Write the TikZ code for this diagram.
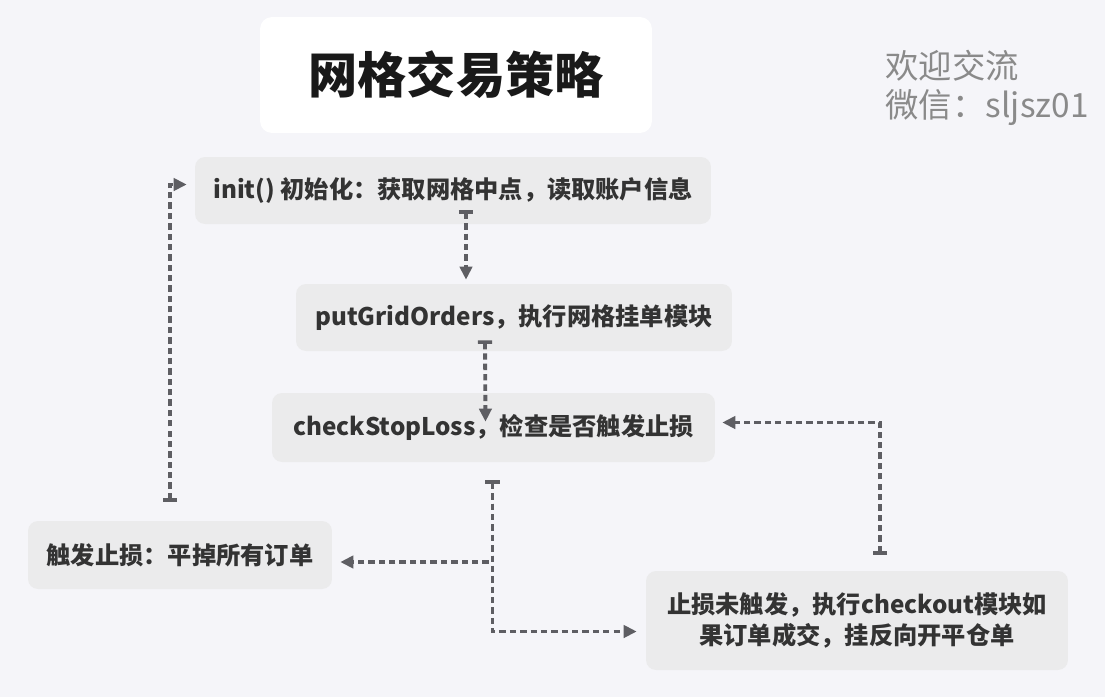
\documentclass[tikz,border=0pt]{standalone}
\usepackage{fontspec}
\setmainfont{Noto Sans CJK SC}
\usetikzlibrary{arrows.meta,calc}

\definecolor{bgcol}{HTML}{F5F5F9}
\definecolor{boxcol}{HTML}{EBEBEC}
\definecolor{linecol}{HTML}{5E5E63}
\definecolor{txtcol}{HTML}{333333}
\definecolor{markcol}{HTML}{8A8A8A}

\tikzset{
  stepbox/.style={fill=boxcol, rounded corners=0.2cm, text=txtcol, inner sep=0pt,
    align=center, font=\fontsize{13.8}{17.5}\selectfont\bfseries},
  flow/.style={linecol, line width=2.2pt, dash pattern=on 3.6pt off 2.3pt,
    {Bar[width=8pt,line width=2pt]}-{Triangle[width=7pt,length=7.4pt]}},
}

\begin{document}
\begin{tikzpicture}[x=0.02cm, y=-0.02cm]
    % canvas, 1 unit = 1 px
    \fill[bgcol] (0,0) rectangle (1105,697);
    \useasboundingbox (0,0) rectangle (1105,697);

    % title and contact
    \node[fill=white, rounded corners=0.24cm, minimum width=7.84cm, minimum height=2.32cm,
      font=\fontsize{28}{30}\selectfont\bfseries, text=black!90] (title) at (456,75) {网格交易策略};
    \node[anchor=west, align=left, text=markcol, inner sep=0pt,
      font=\fontsize{19}{21.8}\selectfont] (contact) at (885,88) {欢迎交流\\微信：sljsz01};

    % steps
    \node[stepbox, minimum width=10.32cm, minimum height=1.34cm] (init) at (453,190.5)
      {init() 初始化：获取网格中点，读取账户信息};
    \node[stepbox, minimum width=8.72cm, minimum height=1.34cm] (putgrid) at (514,317.5)
      {putGridOrders，执行网格挂单模块};
    \node[stepbox, minimum width=8.86cm, minimum height=1.38cm] (check) at (493.5,427.5)
      {checkStopLoss，检查是否触发止损};
    \node[stepbox, minimum width=6.08cm, minimum height=1.36cm] (stoploss) at (180,555)
      {触发止损：平掉所有订单};
    \node[stepbox, minimum width=8.44cm, minimum height=1.98cm] (nostop) at (857,620.5)
      {止损未触发，执行checkout模块如\\果订单成交，挂反向开平仓单};

    % connectors
    \draw[flow] ($(init.south)+(13,-14)$) -- ($(putgrid.north)+(-48,-4)$);
    \draw[flow] ($(putgrid.south)+(-29,-11)$) -- ($(check.north)+(-8,29)$);
    \draw[flow] ($(check.south)+(-1,18)$) |- ($(stoploss.east)+(8,7)$);
    \draw[flow] ($(check.south)+(-1,18)$) |- ($(nostop.west)+(-9,11)$);
    \draw[flow] ($(nostop.north)+(23,-16)$) |- ($(check.east)+(7,-5)$);
    \draw[flow] ($(stoploss.north)+(-10,-19)$) |- ($(init.west)+(-8,-6)$);
\end{tikzpicture}
\end{document}
